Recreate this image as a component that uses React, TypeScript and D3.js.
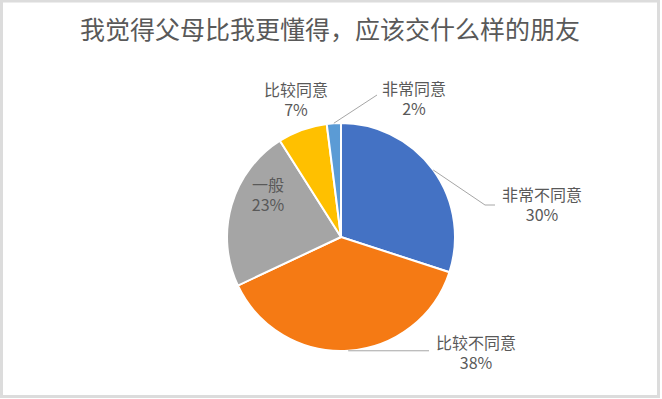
import React from "react";
import * as d3 from "d3";

const categories = ["非常不同意", "比较不同意", "一般", "比较同意", "非常同意"];
const values = [30, 38, 23, 7, 2];
const colors = ["#4472C4", "#F57A14", "#A5A5A5", "#FFC000", "#5B9BD5"];
const title = "我觉得父母比我更懂得，应该交什么样的朋友";

const W = 662, H = 399;
const cx = 341, cy = 237, R = 114;

export default function App() {
  const pie = d3.pie<number>().sort(null).value((d) => d);
  const arcs = pie(values);
  const arc = d3.arc<d3.PieArcDatum<number>>().innerRadius(0).outerRadius(R);
  const font = "'Noto Sans CJK SC', 'Noto Sans', sans-serif";
  const pt = (a: number, r: number) => [Math.sin(a) * r, -Math.cos(a) * r];

  // label placements (offsets relative to centre) by category
  const labelPos: Record<string, { x: number; y: number; line?: number[][] }> = {
    "非常不同意": { x: 201, y: -36, line: [[144, -32], [154, -32]] },
    "比较不同意": { x: 135, y: 112, line: [[88, 0]] },
    "一般": { x: -73, y: -46 },
    "比较同意": { x: -45, y: -141 },
    "非常同意": { x: 73, y: -142, line: [[36, -142]] },
  };

  return (
    <svg width={W} height={H} style={{ position: "fixed", left: 0, top: 0, background: "#fff" }}>
      <rect x={1.5} y={1} width={W - 5} height={H - 3.5} fill="#fff" stroke="#dcdcdc" strokeWidth={3} />
      <text x={330} y={39} textAnchor="middle" fontFamily={font} fontSize={25} fill="#595959">
        {title}
      </text>
      <g transform={`translate(${cx},${cy})`}>
        {arcs.map((a, i) => (
          <path key={i} d={arc(a) || ""} fill={colors[i]} stroke="#fff" strokeWidth={2} />
        ))}
        {arcs.map((a, i) => {
          const name = categories[i];
          const lp = labelPos[name];
          const mid = (a.startAngle + a.endAngle) / 2;
          const [ex, ey] = pt(mid, R);
          let lineEl = null;
          if (lp.line) {
            let pts: number[][];
            if (name === "比较不同意") {
              pts = [[ex, ey], [lp.line[0][0], ey]];
            } else {
              pts = [[ex, ey], ...lp.line];
            }
            lineEl = (
              <polyline
                points={pts.map((p) => p.join(",")).join(" ")}
                fill="none"
                stroke="#a6a6a6"
                strokeWidth={1}
              />
            );
          }
          return (
            <g key={"l" + i}>
              {lineEl}
              <text x={lp.x} y={lp.y} textAnchor="middle" fontFamily={font} fontSize={16} fill="#595959">
                <tspan x={lp.x} dy={0}>{name}</tspan>
                <tspan x={lp.x} dy={20}>{`${values[i]}%`}</tspan>
              </text>
            </g>
          );
        })}
      </g>
    </svg>
  );
}
